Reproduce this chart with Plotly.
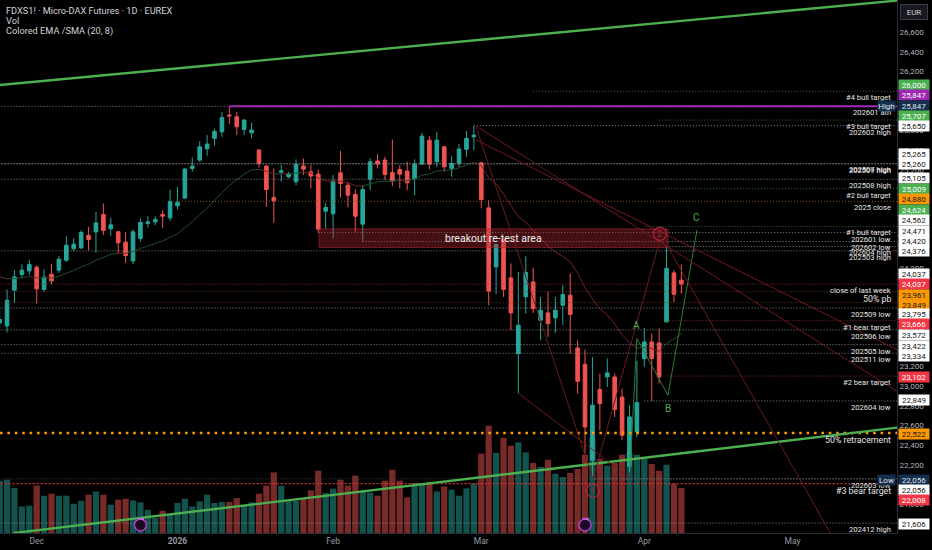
#!/usr/bin/env python3
# -*- coding: utf-8 -*-

import pandas as pd
import plotly.graph_objects as go

# Calendário Eurex (dias sem pregão)
inicio_calendario = '2025-11-24'
fim_calendario = '2026-06-30'
feriados = ['2025-12-24', '2025-12-25', '2025-12-26', '2025-12-31',
            '2026-01-01', '2026-04-03', '2026-04-06', '2026-05-01']

# Velas diárias FDXS1! (24/11/2025 a 10/04/2026)
abertura = [23643, 23612, 23976, 24136, 24172, 24210, 23983, 24139, 24180, 24281,
            24397, 24407, 24533, 24569, 24747, 24600, 24570, 24465, 24274, 24502,
            24655, 24671, 24747, 24712, 24834, 24913, 25215, 25300, 25415, 25521,
            25588, 25758, 25741, 25612, 25578, 25402, 25239, 24920, 25177, 25130,
            25079, 25239, 25181, 25157, 24780, 24753, 25170, 25045, 24950, 24648,
            25106, 25290, 25300, 25174, 25205, 25188, 25113, 25259, 25503, 25283,
            25435, 25215, 25266, 25409, 25537, 25272, 24814, 24213, 24492, 24101,
            23331, 23908, 24060, 23670, 23745, 23694, 23823, 23925, 23388, 23222,
            22245, 22965, 23093, 23093, 22889, 22184, 22533, 23280, 23449, 23439,
            23653, 24152, 24078]
maxima = [23806, 23983, 24180, 24240, 24288, 24230, 24190, 24240, 24322, 24526,
          24505, 24587, 24620, 24773, 24859, 24712, 24575, 24570, 24594, 24706,
          24729, 24729, 24790, 25001, 25028, 25221, 25327, 25493, 25554, 25615,
          25788, 25847, 25791, 25717, 25680, 25412, 25249, 25215, 25249, 25181,
          25307, 25317, 25249, 25205, 24865, 25147, 25394, 25079, 25001, 25045,
          25317, 25361, 25334, 25510, 25249, 25283, 25307, 25578, 25544, 25588,
          25442, 25340, 25463, 25595, 25650, 25283, 24893, 24451, 24512, 24248,
          24162, 24322, 24207, 23907, 23966, 23907, 24027, 24146, 23467, 23372,
          23297, 23128, 23280, 23128, 22975, 22805, 23256, 23592, 23535, 23586,
          24420, 24180, 24238]
minima = [23569, 23545, 23846, 24105, 24128, 23840, 23959, 24037, 24152, 24264,
          24373, 24393, 24383, 24356, 24536, 24529, 24350, 24254, 24240, 24468,
          24614, 24638, 24610, 24681, 24798, 24906, 25181, 25282, 25344, 25445,
          25537, 25666, 25554, 25554, 25521, 25225, 24824, 24661, 25079, 25113,
          25045, 25147, 25011, 24562, 24604, 24502, 24920, 24818, 24570, 24471,
          24994, 25215, 25096, 25035, 25011, 24994, 24943, 25249, 25205, 25232,
          25181, 25130, 25232, 25334, 25402, 24808, 23823, 23935, 23908, 23569,
          22924, 23738, 23745, 23467, 23501, 23541, 23620, 23331, 22924, 22316,
          22056, 22550, 22991, 22686, 22448, 22126, 22482, 23195, 22849, 23026,
          23653, 23857, 23942]
fechamento = [23678, 23874, 24111, 24180, 24238, 23989, 24111, 24071, 24291, 24434,
              24444, 24563, 24492, 24661, 24584, 24641, 24458, 24329, 24570, 24665,
              24671, 24696, 24729, 24880, 24869, 25208, 25239, 25435, 25463, 25592,
              25734, 25750, 25639, 25707, 25605, 25266, 25001, 24885, 25191, 25157,
              25256, 25208, 25137, 24597, 24818, 25086, 25062, 24943, 24729, 25001,
              25283, 25259, 25154, 25086, 25157, 25069, 25256, 25544, 25259, 25503,
              25232, 25266, 25412, 25521, 25554, 24899, 23966, 24441, 23983, 23745,
              23620, 24156, 23789, 23772, 23637, 23772, 23932, 23729, 23049, 22584,
              22805, 22822, 23134, 22761, 22499, 22686, 22832, 23449, 23280, 23093,
              24197, 23935, 24037]
volume = [52300, 53300, 45000, 26600, 27300, 47300, 37300, 39300, 37300, 37300,
          29300, 32300, 38300, 41600, 38300, 28300, 33300, 34300, 32600, 30600,
          23300, 15000, 22300, 19000, 30000, 34300, 26600, 31600, 38300, 30000,
          31000, 31000, 35000, 27300, 30600, 39300, 47300, 60600, 47300, 33300,
          32300, 35000, 42600, 62300, 40000, 44300, 53300, 47300, 57300, 41600,
          40600, 37300, 52300, 63300, 52300, 35600, 50000, 50000, 51000, 41600,
          46600, 43300, 37300, 44600, 49300, 79300, 107300, 80000, 95000, 87300,
          90600, 80600, 70000, 66000, 73300, 59300, 56000, 60000, 64000, 78300,
          95000, 74000, 67300, 70000, 78300, 80000, 78300, 75000, 69000, 62300,
          68300, 49300, 45000]

# Valor da EMA 20 na véspera da primeira vela
ema_semente = 24160
ema_periodo = 20

# Rótulos do eixo de tempo
meses_rotulos = ['Dec', '<b>2026</b>', 'Feb', 'Mar', 'Apr', 'May']
meses_datas = ['2025-12-01', '2026-01-02', '2026-02-02', '2026-03-02', '2026-04-01', '2026-05-04']

# Níveis horizontais desenhados (preço, nome, tipo, data de início; None = largura toda)
niveis_preco = [26000, 25847, 25707, 25650, 25265, 25260, 25105, 25009, 24880, 24624,
                24562, 24471, 24420, 24376, 24037, 23961, 23849, 23795, 23666, 23572,
                23422, 23334, 23102, 22849, 22522, 22056, 22056, 22008, 21606]
niveis_nome = ['#4 bull target', '202601 ath', '#3 bull target', '202602 high', '202507 high',
               '202509 high', '202508 high', '#2 bull target', '2025 close', '#1 bull target',
               '202601 low', '202602 low', '202604 high', '202503 high', 'close of last week',
               '50% pb', '', '202509 low', '#1 bear target', '202506 low',
               '202505 low', '202511 low', '#2 bear target', '202604 low', '50% retracement',
               '', '202603 low', '#3 bear target', '202412 high']
niveis_tipo = ['bull', 'nivel', 'bull', 'nivel', 'nivel', 'nivel', 'nivel', 'bull', 'laranja', 'bull',
               'nivel', 'nivel', 'nivel', 'nivel', 'fecho', 'marrom', 'marrom', 'nivel', 'bear', 'nivel',
               'nivel', 'nivel', 'bear', 'nivel', 'fibo', 'fraco', 'nivel', 'bear_forte', 'nivel']
niveis_inicio = ['2026-03-11', None, '2026-04-07', '2026-02-27', None, None, None, '2026-04-07', '2025-12-30', '2026-04-01',
                 '2026-01-29', '2026-02-06', '2026-04-08', None, None, None, None, None, '2026-04-08', None,
                 None, None, '2026-04-08', '2026-04-01', None, None, '2026-03-23', None, None]

# Máxima histórica (linha magenta)
ath_preco = 25847
ath_data = '2026-01-13'

# Etiquetas do eixo de preços (valor, tipo)
eixo_valores = [26000, 25847, 25847, 25707, 25650, 25265, 25260, 25105, 25009, 24880,
                24624, 24562, 24471, 24420, 24376, 24037, 24037, 23961, 23849, 23795,
                23666, 23572, 23422, 23334, 23102, 22849, 22522, 22056, 22056, 22008, 21606]
eixo_tipo = ['bull', 'ath', 'hilo', 'bull', 'nivel', 'nivel', 'nivel', 'nivel', 'bull', 'laranja',
             'bull', 'nivel', 'nivel', 'nivel', 'nivel', 'nivel', 'fecho', 'laranja', 'laranja', 'nivel',
             'bear', 'nivel', 'nivel', 'nivel', 'bear', 'nivel', 'laranja', 'hilo', 'nivel', 'bear', 'nivel']
eixo_prefixo = {2: 'High', 27: 'Low'}

# Linhas de tendência (barra, preço)
tendencia_topo = [(0.0, 26063), (121.1, 26923)]
tendencia_base = [(1.8, 21504), (121.1, 22577)]
linhas_vermelhas = [
    [(64.3, 25646), (121.1, 22947)],
    [(64.3, 25505), (121.1, 23370)],
    [(90.2, 24414), (112.1, 21505)],
    [(64.3, 25636), (80.1, 22050)],
    [(70.0, 22927), (85.1, 22062)],
    [(80.1, 22062), (89.1, 24485)],
]
onda_barras = [85.1, 86.0, 90.2, 94.1]
onda_precos = [22174, 23484, 22907, 24587]
onda_rotulos = ['', 'A', 'B', 'C']

# Zona "breakout re-test area"
zona_barras = (43.1, 90.2)
zona_precos = (24410, 24600)
zona_texto = 'breakout re-test area'

# Contagem de ondas (círculos)
contagem_barras = [80.07, 89.1]
contagem_precos = [21935, 24550]
contagem_rotulos = ['1', '2']

# Vencimentos trimestrais (ícones no rodapé)
vencimentos = ['2025-12-19', '2026-03-20']

# Cabeçalho
cabecalho = ['FDXS1! · Micro-DAX Futures · 1D · EUREX', 'Vol', 'Colored EMA /SMA (20, 8)']

# Estilos
FONTE = 'Roboto, Liberation Sans, sans-serif'
COR_ALTA = '#26a69a'
COR_BAIXA = '#ef5350'
COR_TEXTO = '#d1d4dc'
ESTILO_LINHA = {
    'bull': ('#2f6b34', 1, '1px,2px'),
    'bear': ('#8e2a2a', 1, '1px,2px'),
    'bear_forte': ('#d8323c', 1.3, '2px,2px'),
    'nivel': ('#8c8c8c', 1, '1px,2px'),
    'fraco': ('#4a4a4a', 1, '1px,2px'),
    'laranja': ('#8a5a12', 1, '1px,2px'),
    'marrom': ('#6e3b1e', 1, '1px,2px'),
    'fecho': ('#a1282c', 1, '1px,2px'),
    'fibo': ('#ff9800', 2.6, '2.6px,4.8px'),
}
ESTILO_ETIQUETA = {
    'bull': ('#4caf50', '#ffffff'),
    'ath': ('#9c27b0', '#ffffff'),
    'hilo': ('#13304f', '#e0e3eb'),
    'nivel': ('#ffffff', '#131722'),
    'laranja': ('#ff9800', '#131722'),
    'bear': ('#f23645', '#ffffff'),
    'fecho': ('#f23645', '#ffffff'),
}
# Deslocamento vertical (px) das etiquetas empilhadas no eixo
eixo_deslocamento = [6, 11, 0, 4, 0, 9.5, 0, 1, 0, 2,
                     17, 12.5, 10.5, 5.5, 0, 10, 0, -3.5, -2, -6.3,
                     -3.6, -5.4, -1, -2.7, -1, 0.5, -0.5, -1.5, -10.8, -16, -0.5]
NOMES_GRANDES = {'50% pb', '50% retracement', '#3 bear target'}

X_MIN, X_MAX = 0.05, 121.1
Y_MIN, Y_MAX = 21505, 26929
ALTURA_AREA = 533

# Página sem margem (o div do gráfico encosta no canto)
SCRIPT_PAGINA = "document.body.style.margin='0';document.body.style.background='#000';"


# Função para calcular a EMA colorida
def calcular_ema(fechos, semente, periodo):
    alfa = 2 / (periodo + 1)
    ema = []
    anterior = semente
    for c in fechos:
        anterior = anterior + alfa * (c - anterior)
        ema.append(anterior)
    return ema


def segmentos_ema(xs, ema):
    sobe_x, sobe_y, desce_x, desce_y = [], [], [], []
    for k in range(1, len(ema)):
        if ema[k] >= ema[k - 1]:
            sobe_x += [xs[k - 1], xs[k], None]
            sobe_y += [ema[k - 1], ema[k], None]
        else:
            desce_x += [xs[k - 1], xs[k], None]
            desce_y += [ema[k - 1], ema[k], None]
    return (sobe_x, sobe_y), (desce_x, desce_y)


# Função principal
def main():
    dias = pd.bdate_range(inicio_calendario, fim_calendario)
    dias = dias[~dias.isin(pd.to_datetime(feriados))]
    indice = {d.strftime('%Y-%m-%d'): k for k, d in enumerate(dias)}
    n = len(fechamento)
    xs = list(range(n))

    fig = go.Figure()

    # Volume (eixo base, escondido)
    cores_vol = ['rgba(38,166,154,0.5)' if c >= o else 'rgba(239,83,80,0.5)'
                 for o, c in zip(abertura, fechamento)]
    fig.add_trace(go.Bar(x=xs, y=volume, marker=dict(color=cores_vol, line=dict(width=0)),
                         width=0.84, yaxis='y', showlegend=False, hoverinfo='skip'))

    # Velas
    fig.add_trace(go.Candlestick(
        x=xs, open=abertura, high=maxima, low=minima, close=fechamento, yaxis='y2',
        increasing=dict(line=dict(color=COR_ALTA, width=1), fillcolor=COR_ALTA),
        decreasing=dict(line=dict(color=COR_BAIXA, width=1), fillcolor=COR_BAIXA),
        showlegend=False, hoverinfo='skip'))

    # EMA colorida
    ema = calcular_ema(fechamento, ema_semente, ema_periodo)
    (sx, sy), (dx, dy) = segmentos_ema(xs, ema)
    fig.add_trace(go.Scatter(x=sx, y=sy, mode='lines', line=dict(color='#1d4f2e', width=1),
                             yaxis='y2', showlegend=False, hoverinfo='skip'))
    fig.add_trace(go.Scatter(x=dx, y=dy, mode='lines', line=dict(color='#7a1f22', width=1),
                             yaxis='y2', showlegend=False, hoverinfo='skip'))

    formas = []

    # Níveis horizontais
    for preco, tipo, ini in zip(niveis_preco, niveis_tipo, niveis_inicio):
        cor, larg, traco = ESTILO_LINHA[tipo]
        x0 = indice[ini] if ini else X_MIN - 1
        formas.append(dict(type='line', xref='x', yref='y2', x0=x0, x1=X_MAX + 5, y0=preco, y1=preco,
                           line=dict(color=cor, width=larg, dash=traco), layer='above'))
    formas.append(dict(type='line', xref='x', yref='y2', x0=indice[ath_data], x1=X_MAX + 5,
                       y0=ath_preco, y1=ath_preco, line=dict(color='#a12bb8', width=2), layer='above'))

    # Zona de reteste
    formas.append(dict(type='rect', xref='x', yref='y2', x0=zona_barras[0], x1=zona_barras[1],
                       y0=zona_precos[0], y1=zona_precos[1], fillcolor='rgba(178,40,51,0.38)',
                       line=dict(color='rgba(178,40,51,0.55)', width=1), layer='above'))

    # Linhas de tendência
    for pontos, cor, larg in [(tendencia_topo, '#4caf50', 2.4), (tendencia_base, '#4caf50', 2.4)]:
        formas.append(dict(type='line', xref='x', yref='y2', x0=pontos[0][0], y0=pontos[0][1],
                           x1=pontos[1][0], y1=pontos[1][1], line=dict(color=cor, width=larg), layer='above'))
    for pontos in linhas_vermelhas:
        formas.append(dict(type='line', xref='x', yref='y2', x0=pontos[0][0], y0=pontos[0][1],
                           x1=pontos[1][0], y1=pontos[1][1], line=dict(color='#6e1a1f', width=1), layer='above'))

    # Círculos da contagem
    for b, p in zip(contagem_barras, contagem_precos):
        formas.append(dict(type='circle', xref='x', yref='y2', xsizemode='pixel', ysizemode='pixel',
                           xanchor=b, yanchor=p, x0=-6.5, x1=6.5, y0=-6.5, y1=6.5,
                           line=dict(color='#b3263a', width=1.2), layer='above'))

    # Ícones de vencimento
    for d in vencimentos:
        formas.append(dict(type='circle', xref='x', yref='paper', xsizemode='pixel', ysizemode='pixel',
                           xanchor=indice[d], yanchor=8 / ALTURA_AREA, x0=-6, x1=6, y0=-6, y1=6,
                           fillcolor='#1c0622', line=dict(color='#b33fd2', width=1.5), layer='above'))

    # Onda ABC
    fig.add_trace(go.Scatter(x=onda_barras, y=onda_precos, mode='lines',
                             line=dict(color='#2e7d32', width=1), yaxis='y2',
                             showlegend=False, hoverinfo='skip'))

    anotacoes = []

    # Cabeçalho
    for k, linha in enumerate(cabecalho):
        anotacoes.append(dict(xref='paper', yref='paper', x=0, y=1, xanchor='left', yanchor='middle',
                              xshift=4, yshift=-10 - 10.3 * k, text=linha, showarrow=False,
                              font=dict(family=FONTE, size=9.2, color=COR_TEXTO)))

    # Nomes dos níveis
    for preco, nome in zip(niveis_preco, niveis_nome):
        if not nome:
            continue
        grande = nome in NOMES_GRANDES
        anotacoes.append(dict(xref='paper', yref='y2', x=1, y=preco, xanchor='right', yanchor='middle',
                              xshift=-4, yshift=-7.3 if grande else -6.4, text=nome, showarrow=False,
                              font=dict(family=FONTE, size=8.8 if grande else 7.6, color='#e6e6e6')))

    # Etiquetas do eixo de preços
    for k, (valor, tipo, desl) in enumerate(zip(eixo_valores, eixo_tipo, eixo_deslocamento)):
        fundo, letra = ESTILO_ETIQUETA[tipo]
        anotacoes.append(dict(xref='paper', yref='y2', x=1, y=valor, xanchor='left', yanchor='middle',
                              xshift=1, yshift=desl, text=f'{valor:,}', showarrow=False,
                              bgcolor=fundo, width=30, height=10, borderpad=0,
                              font=dict(family=FONTE, size=8, color=letra)))
        if k in eixo_prefixo:
            anotacoes.append(dict(xref='paper', yref='y2', x=1, y=valor, xanchor='right', yanchor='middle',
                                  xshift=-1, yshift=desl, text=eixo_prefixo[k], showarrow=False,
                                  bgcolor=fundo, width=17, height=10, borderpad=0,
                                  font=dict(family=FONTE, size=8, color=letra)))

    # Moeda
    anotacoes.append(dict(xref='paper', yref='paper', x=1, y=1, xanchor='left', yanchor='top',
                          xshift=3, yshift=-4, text='EUR', showarrow=False, bgcolor='#17191f',
                          bordercolor='#3a3d46', borderwidth=1, width=24, height=12,
                          font=dict(family=FONTE, size=8, color=COR_TEXTO)))

    # Texto da zona
    anotacoes.append(dict(xref='x', yref='y2', x=sum(zona_barras) / 2, y=sum(zona_precos) / 2,
                          text=zona_texto, showarrow=False,
                          font=dict(family=FONTE, size=10.5, color='#f0f0f0')))

    # Rótulos A, B, C
    for b, p, r in zip(onda_barras, onda_precos, onda_rotulos):
        if not r:
            continue
        desl = -13 if r == 'B' else 13
        anotacoes.append(dict(xref='x', yref='y2', x=b, y=p, yshift=desl, text=r, showarrow=False,
                              font=dict(family=FONTE, size=10, color='#4caf50')))

    # Números da contagem
    for b, p, r in zip(contagem_barras, contagem_precos, contagem_rotulos):
        anotacoes.append(dict(xref='x', yref='y2', x=b, y=p, text=r, showarrow=False,
                              font=dict(family=FONTE, size=9, color='#b3263a')))

    # Setas dos ícones
    for d in vencimentos:
        anotacoes.append(dict(xref='x', yref='paper', x=indice[d], y=8 / ALTURA_AREA, text='↝',
                              showarrow=False, font=dict(family='DejaVu Sans', size=8, color='#d37ae8')))

    tick_x = [indice[d] for d in meses_datas]

    fig.update_layout(
        width=932, height=550,
        margin=dict(l=0, r=35, t=0, b=17),
        paper_bgcolor='#000000', plot_bgcolor='#000000',
        showlegend=False, hovermode=False,
        shapes=formas, annotations=anotacoes,
        xaxis=dict(range=[X_MIN, X_MAX], tickvals=tick_x, ticktext=meses_rotulos,
                   showgrid=False, zeroline=False, showline=True, linecolor='#2a2e39',
                   rangeslider=dict(visible=False), ticks='',
                   tickfont=dict(family=FONTE, size=8.5, color='#9598a1')),
        yaxis=dict(range=[0, ALTURA_AREA * 1000], visible=False, showgrid=False, zeroline=False),
        yaxis2=dict(range=[Y_MIN, Y_MAX], overlaying='y', side='right', anchor='x',
                    dtick=200, tickformat=',d', showgrid=False, zeroline=False,
                    showline=True, linecolor='#2a2e39', ticks='',
                    tickfont=dict(family=FONTE, size=8, color='#b2b5be')),
    )

    fig.write_html('out.html', post_script=SCRIPT_PAGINA, config={'displayModeBar': False})


if __name__ == '__main__':
    main()
